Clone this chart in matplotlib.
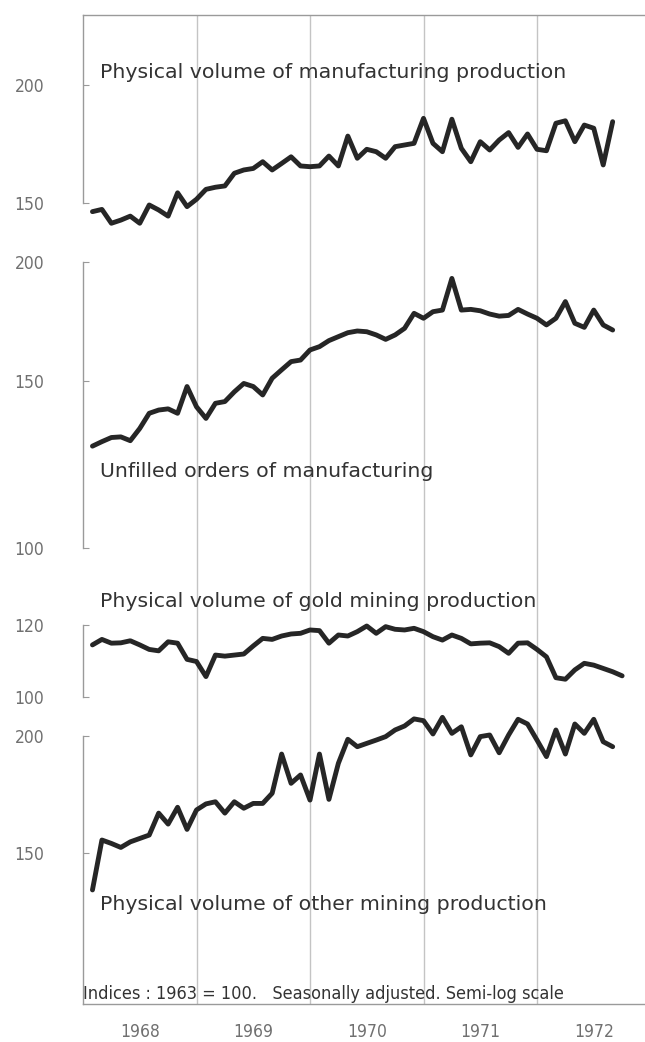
import numpy as np
import matplotlib
matplotlib.use("Agg")
import matplotlib.pyplot as plt

# ---------------- data ----------------
start_year, start_month = 1968, 2  # first observation: Feb 1968

manufacturing = [146.9, 147.7, 142.8, 143.9, 145.3, 142.8, 149.3, 147.5, 145.3, 153.8,
                 148.7, 151.4, 155.1, 155.9, 156.4, 161.3, 162.6, 163.2, 165.9, 162.6,
                 165.2, 167.9, 164.2, 163.9, 164.2, 168.2, 164.2, 176.6, 167.3, 171.0,
                 170.0, 167.3, 172.1, 172.8, 173.5, 184.4, 173.5, 170.0, 184.0, 171.4,
                 165.9, 174.2, 170.7, 174.9, 178.1, 171.8, 177.5, 171.0, 170.4, 182.2,
                 183.3, 174.2, 181.4, 180.0, 164.6, 182.9]

unfilled_orders = [128.0, 129.4, 130.7, 130.9, 129.7, 133.6, 138.6, 139.7, 140.1, 138.6,
                   147.9, 140.8, 136.9, 142.0, 142.6, 146.0, 149.0, 147.9, 144.9, 150.9,
                   154.0, 157.1, 157.7, 161.6, 162.9, 165.3, 166.9, 168.5, 169.2, 168.9,
                   167.6, 165.8, 167.6, 170.3, 176.6, 174.5, 177.3, 178.0, 192.2, 178.0,
                   178.3, 177.7, 176.3, 175.4, 175.7, 178.3, 176.3, 174.5, 171.7, 174.5,
                   181.7, 172.4, 170.7, 178.0, 171.7, 169.6]

gold_mining = [114.1, 115.7, 114.6, 114.7, 115.3, 114.1, 112.8, 112.4, 115.0, 114.6,
               110.0, 109.4, 105.3, 111.2, 110.9, 111.2, 111.5, 113.8, 116.0, 115.7,
               116.7, 117.3, 117.5, 118.5, 118.3, 114.6, 117.0, 116.7, 118.0, 119.7,
               117.5, 119.5, 118.7, 118.5, 119.0, 118.0, 116.5, 115.5, 117.0, 116.0,
               114.4, 114.6, 114.7, 113.6, 111.7, 114.6, 114.7, 112.8, 110.7, 105.0,
               104.6, 107.1, 108.9, 108.4, 107.5, 106.6, 105.5]

other_mining = [136.9, 154.8, 153.5, 152.0, 154.1, 155.4, 156.7, 165.4, 161.0, 167.8,
                158.9, 166.7, 169.2, 170.1, 165.4, 170.1, 167.4, 169.4, 169.4, 173.7,
                191.3, 178.0, 181.7, 170.8, 191.3, 171.1, 187.0, 198.4, 194.8, 196.4,
                198.0, 199.7, 203.0, 205.0, 208.6, 207.7, 201.0, 209.4, 201.3, 204.6,
                190.9, 199.7, 200.5, 191.9, 200.5, 208.4, 206.0, 198.0, 190.1, 203.0,
                191.3, 206.0, 201.3, 208.4, 197.2, 194.8]

series_labels = ["Physical volume of manufacturing production",
                 "Unfilled orders of manufacturing",
                 "Physical volume of gold mining production",
                 "Physical volume of other mining production"]
panel_ticks = [[150, 200], [100, 150, 200], [100, 120], [150, 200]]
years = [1968, 1969, 1970, 1971, 1972]
note = "Indices : 1963 = 100.   Seasonally adjusted. Semi-log scale"

# ---------------- layout ----------------
W, H = 645, 1042
fig = plt.figure(figsize=(W / 100, H / 100), dpi=100)
fig.patch.set_facecolor("white")

LEFT, TOP, BOTTOM = 83, 15, 1004
PX_PER_YEAR = 113.5
xmax = years[0] + (W - LEFT) / PX_PER_YEAR
rect = [LEFT / W, 1 - BOTTOM / H, (W - LEFT) / W, (BOTTOM - TOP) / H]

def fx(px):
    return px / W

def fy(py):
    return 1 - py / H

frame_col = "#9a9a9a"
grid_col = "#c4c4c4"
line_col = "#262626"
text_col = "#333333"
tick_col = "#707070"
fam = ["DejaVu Sans"]

# background frame with year grid
ax0 = fig.add_axes(rect)
ax0.set_xlim(years[0], xmax)
ax0.set_ylim(0, 1)
ax0.set_yticks([])
ax0.set_xticks(years[1:])
ax0.set_xticklabels([])
ax0.tick_params(axis="x", which="major", length=0)
ax0.grid(True, axis="x", color=grid_col, lw=1.0)
ax0.set_xticks([y + 0.5 for y in years], minor=True)
ax0.set_xticklabels([str(y) for y in years], minor=True, family=fam,
                    fontstretch="condensed", fontsize=12.5, color=tick_col)
ax0.tick_params(axis="x", which="minor", length=0, pad=14)
for s in ["left", "right"]:
    ax0.spines[s].set_visible(False)
for s in ["top", "bottom"]:
    ax0.spines[s].set_color(frame_col)
    ax0.spines[s].set_linewidth(1.0)

# panels: (values, anchor value, anchor pixel, px per decade, spine bounds)
panels = [
    (manufacturing, 200, 85, 945, (None, 150)),
    (unfilled_orders, 200, 262, 950, (200, 100)),
    (gold_mining, 120, 625, 909, (120, 100)),
    (other_mining, 200, 736, 935, (200, None)),
]
label_baselines = [78, 477, 607, 910]

for (vals, a, pa, k, bnds), ticks, lab, lb in zip(panels, panel_ticks, series_labels, label_baselines):
    ax = fig.add_axes(rect, sharex=ax0)
    ax.patch.set_visible(False)
    ax.set_yscale("log")
    ylo = a * 10 ** ((pa - BOTTOM) / k)
    yhi = a * 10 ** ((pa - TOP) / k)
    ax.set_ylim(ylo, yhi)
    n = len(vals)
    x = start_year + (start_month - 1 + np.arange(n)) / 12.0
    ax.plot(x, vals, color=line_col, lw=3.5, solid_joinstyle="round",
            solid_capstyle="round")
    for s in ["top", "right", "bottom"]:
        ax.spines[s].set_visible(False)
    ax.spines["left"].set_color(frame_col)
    ax.spines["left"].set_linewidth(1.0)
    lo = ylo if bnds[1] is None else bnds[1]
    hi = yhi if bnds[0] is None else bnds[0]
    ax.spines["left"].set_bounds(lo, hi)
    ax.yaxis.set_minor_locator(matplotlib.ticker.NullLocator())
    ax.set_yticks(ticks)
    ax.set_yticklabels([str(t) for t in ticks], family=fam,
                       fontstretch="condensed", fontsize=12.5, color=tick_col)
    ax.tick_params(axis="y", direction="in", length=4, color=frame_col,
                   pad=28)
    ax.tick_params(axis="x", which="both", length=0, labelbottom=False)
    fig.text(fx(100), fy(lb), lab, family=fam, fontsize=14.75,
             color=text_col, va="baseline", ha="left")

fig.text(fx(LEFT), fy(999), note, family=fam, fontstretch="condensed",
         fontsize=13, color=text_col, va="baseline", ha="left")

fig.savefig("out.png", dpi=100, facecolor="white")
